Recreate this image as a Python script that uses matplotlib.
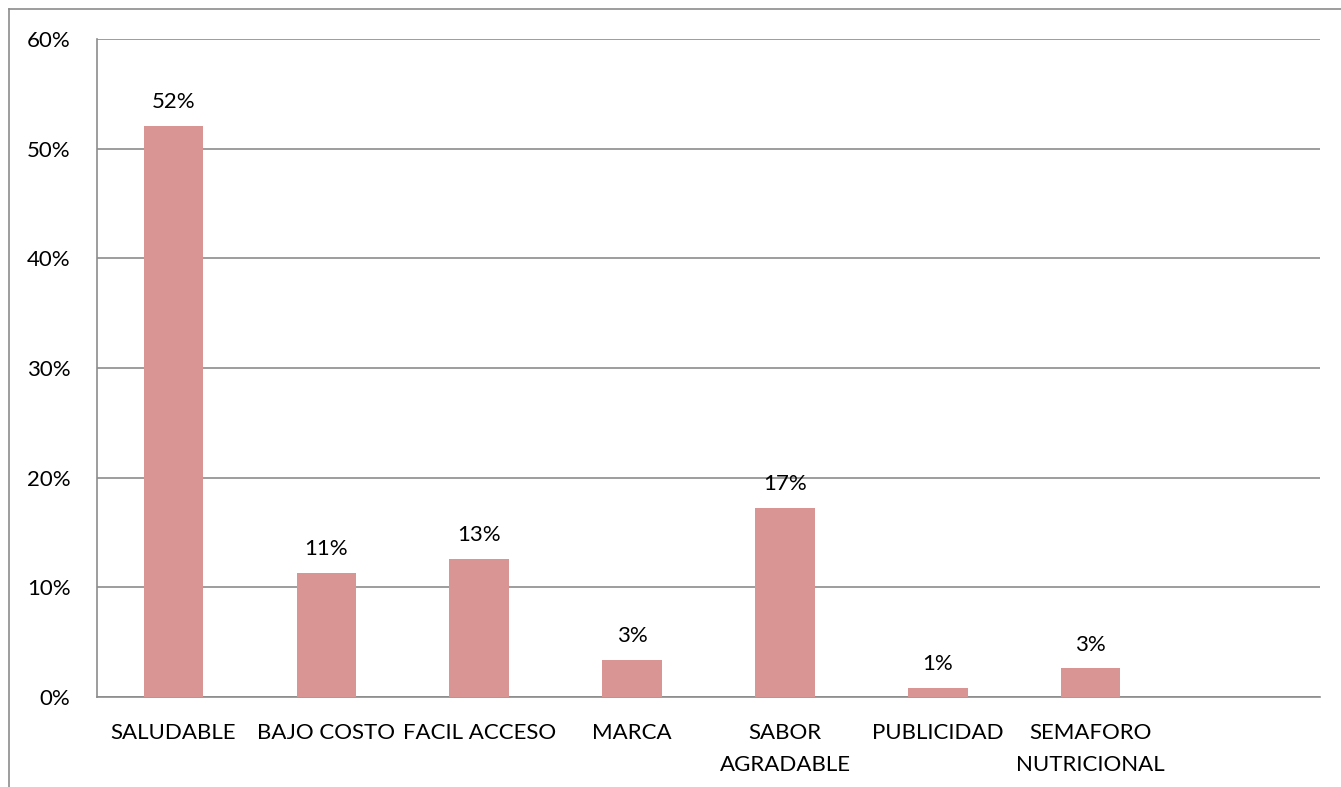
import numpy as np
import matplotlib.pyplot as plt
from matplotlib.lines import Line2D

# Data
categories = ["SALUDABLE", "BAJO COSTO", "FACIL ACCESO", "MARCA",
              "SABOR\nAGRADABLE", "PUBLICIDAD", "SEMAFORO\nNUTRICIONAL", ""]
values = [52.1, 11.3, 12.6, 3.4, 17.2, 0.8, 2.6]
labels = ["52%", "11%", "13%", "3%", "17%", "1%", "3%"]

plt.rcParams['font.family'] = ['Lato', 'DejaVu Sans']
fs = 16

fig = plt.figure(figsize=(13.41, 7.87), dpi=100)
ax = fig.add_axes([97/1341, 1 - 697/787, (1320 - 97)/1341, (697 - 39)/787])

grid_col = "#8c8c8c"
x = np.arange(len(categories))
ax.bar(x[:len(values)], values, width=0.39, color="#d99594", zorder=3)

for xi, v, lab in zip(x, values, labels):
    ax.annotate(lab, (xi, v), xytext=(0, 10), textcoords="offset points",
                ha="center", va="bottom", fontsize=fs)

ax.set_xlim(-0.5, len(categories) - 0.5)
ax.set_ylim(0, 60)
ax.set_yticks(np.arange(0, 61, 10))
ax.set_yticklabels([f"{t}%" for t in range(0, 61, 10)], fontsize=fs)
ax.set_xticks(x)
ax.set_xticklabels(categories, fontsize=fs, linespacing=1.75)
ax.tick_params(length=0)
ax.tick_params(axis="x", pad=19)
ax.tick_params(axis="y", pad=19)
ax.yaxis.grid(True, color=grid_col, linewidth=1.2, zorder=0)
ax.set_axisbelow(True)
for s in ["top", "right"]:
    ax.spines[s].set_visible(False)
for s in ["left", "bottom"]:
    ax.spines[s].set_color(grid_col)
    ax.spines[s].set_linewidth(1.2)

# outer chart border
fig.add_artist(Line2D([8.5/1341, 8.5/1341], [0, 1 - 8.5/787], color=grid_col, linewidth=1.2))
fig.add_artist(Line2D([8.5/1341, 1], [1 - 8.5/787, 1 - 8.5/787], color=grid_col, linewidth=1.2))

fig.savefig("out.png", dpi=100)
